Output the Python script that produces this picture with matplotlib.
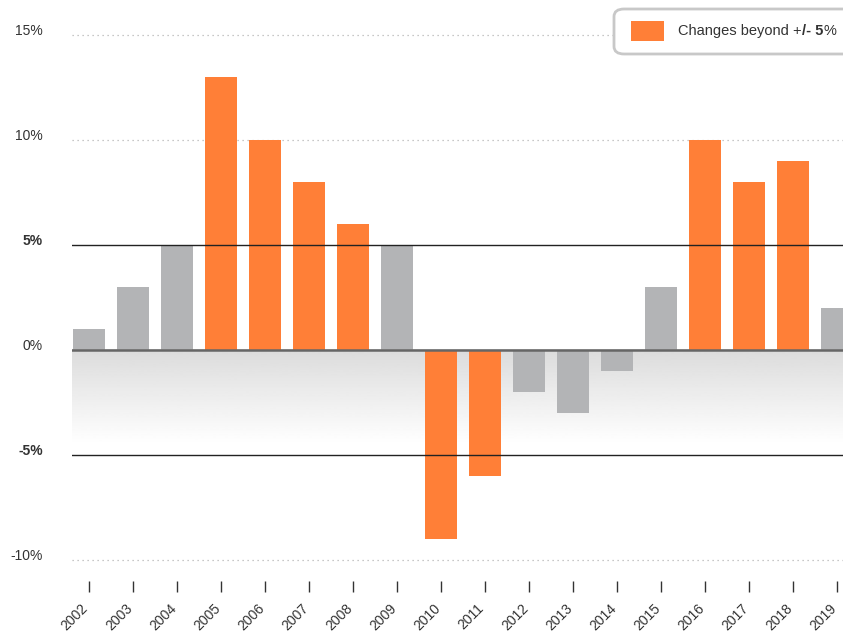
import numpy as np
import matplotlib
matplotlib.use('Agg')
import matplotlib.pyplot as plt
import matplotlib.transforms as mtransforms
from matplotlib.patches import FancyBboxPatch, Rectangle

plt.rcParams['font.family'] = ['Liberation Sans', 'DejaVu Sans']

# Data
years = ['2002', '2003', '2004', '2005', '2006', '2007', '2008', '2009', '2010',
         '2011', '2012', '2013', '2014', '2015', '2016', '2017', '2018', '2019']
changes = [1, 3, 5, 13, 10, 8, 6, 5, -9, -6, -2, -3, -1, 3, 10, 8, 9, 2]
threshold = 5
ytick_vals = [15, 10, 5, 0, -5, -10]

orange = '#ff7f37'
grey = '#b3b4b6'

W, H = 843, 633
fig = plt.figure(figsize=(W / 100, H / 100), dpi=100)
ax = fig.add_axes([72 / W, (H - 581) / H, (W - 72) / W, 581 / H])

x = np.arange(len(years))
ax.set_xlim(-0.386, 17.136)
ax.set_ylim(-11.0, 350 / 21)

# gradient band below zero
grad = np.linspace(0.86, 1.0, 100).reshape(-1, 1)
ax.imshow(grad, extent=[-0.386, 17.136, -4.5, 0], aspect='auto', cmap='gray',
          vmin=0, vmax=1, zorder=0, interpolation='bilinear')

# dotted grid
for v in [15, 10, -10]:
    ax.axhline(v, color='#b5b5b5', lw=0.9, ls=(0, (1, 3)), zorder=1)

cols = [orange if abs(c) > threshold else grey for c in changes]
ax.bar(x, changes, width=0.727, color=cols, zorder=2)

# threshold lines and zero line
for v in [threshold, -threshold]:
    ax.axhline(v, color='#222222', lw=1.0, zorder=3)
ax.axhline(0, color='#666666', lw=1.8, zorder=3)

for s in ax.spines.values():
    s.set_visible(False)

ax.set_yticks(ytick_vals)
ylabels = ax.set_yticklabels([f'{v}%' for v in ytick_vals], va='baseline')
for lab, v in zip(ylabels, ytick_vals):
    lab.set_color('#333333')
    if abs(v) == threshold:
        lab.set_fontweight('bold')
ax.tick_params(axis='y', length=0, pad=21, labelsize=10)

ax.set_xticks(x)
ax.set_xticklabels(years, rotation=45, ha='right', va='center', rotation_mode='anchor')
ax.tick_params(axis='x', length=8, width=1, color='#333333', pad=6,
               labelsize=10, labelcolor='#333333')
shift = mtransforms.ScaledTranslation(-3 / 100, -6 / 100, fig.dpi_scale_trans)
for lab in ax.get_xticklabels():
    lab.set_transform(lab.get_transform() + shift)

# legend box (drawn by hand)
box = FancyBboxPatch((614 / W, (H - 54) / H), 260 / W, 45 / H,
                     boxstyle='round,pad=0,rounding_size=0.012',
                     transform=fig.transFigure, facecolor='white',
                     edgecolor='#c8c8c8', lw=2, zorder=5)
fig.patches.append(box)
fig.patches.append(Rectangle((631 / W, (H - 41) / H), 33 / W, 20 / H,
                             transform=fig.transFigure, facecolor=orange,
                             edgecolor='none', zorder=6))
parts = [('Changes beyond +', 'normal'), ('/- 5', 'bold'), ('%', 'normal')]
fig.canvas.draw()
renderer = fig.canvas.get_renderer()
xpos = 678
for txt, wt in parts:
    t = fig.text(xpos / W, (H - 31) / H, txt, fontsize=10.5, fontweight=wt,
                 color='#333333', va='center', ha='left', zorder=7)
    xpos += t.get_window_extent(renderer).width

fig.savefig('out.png', dpi=100)
